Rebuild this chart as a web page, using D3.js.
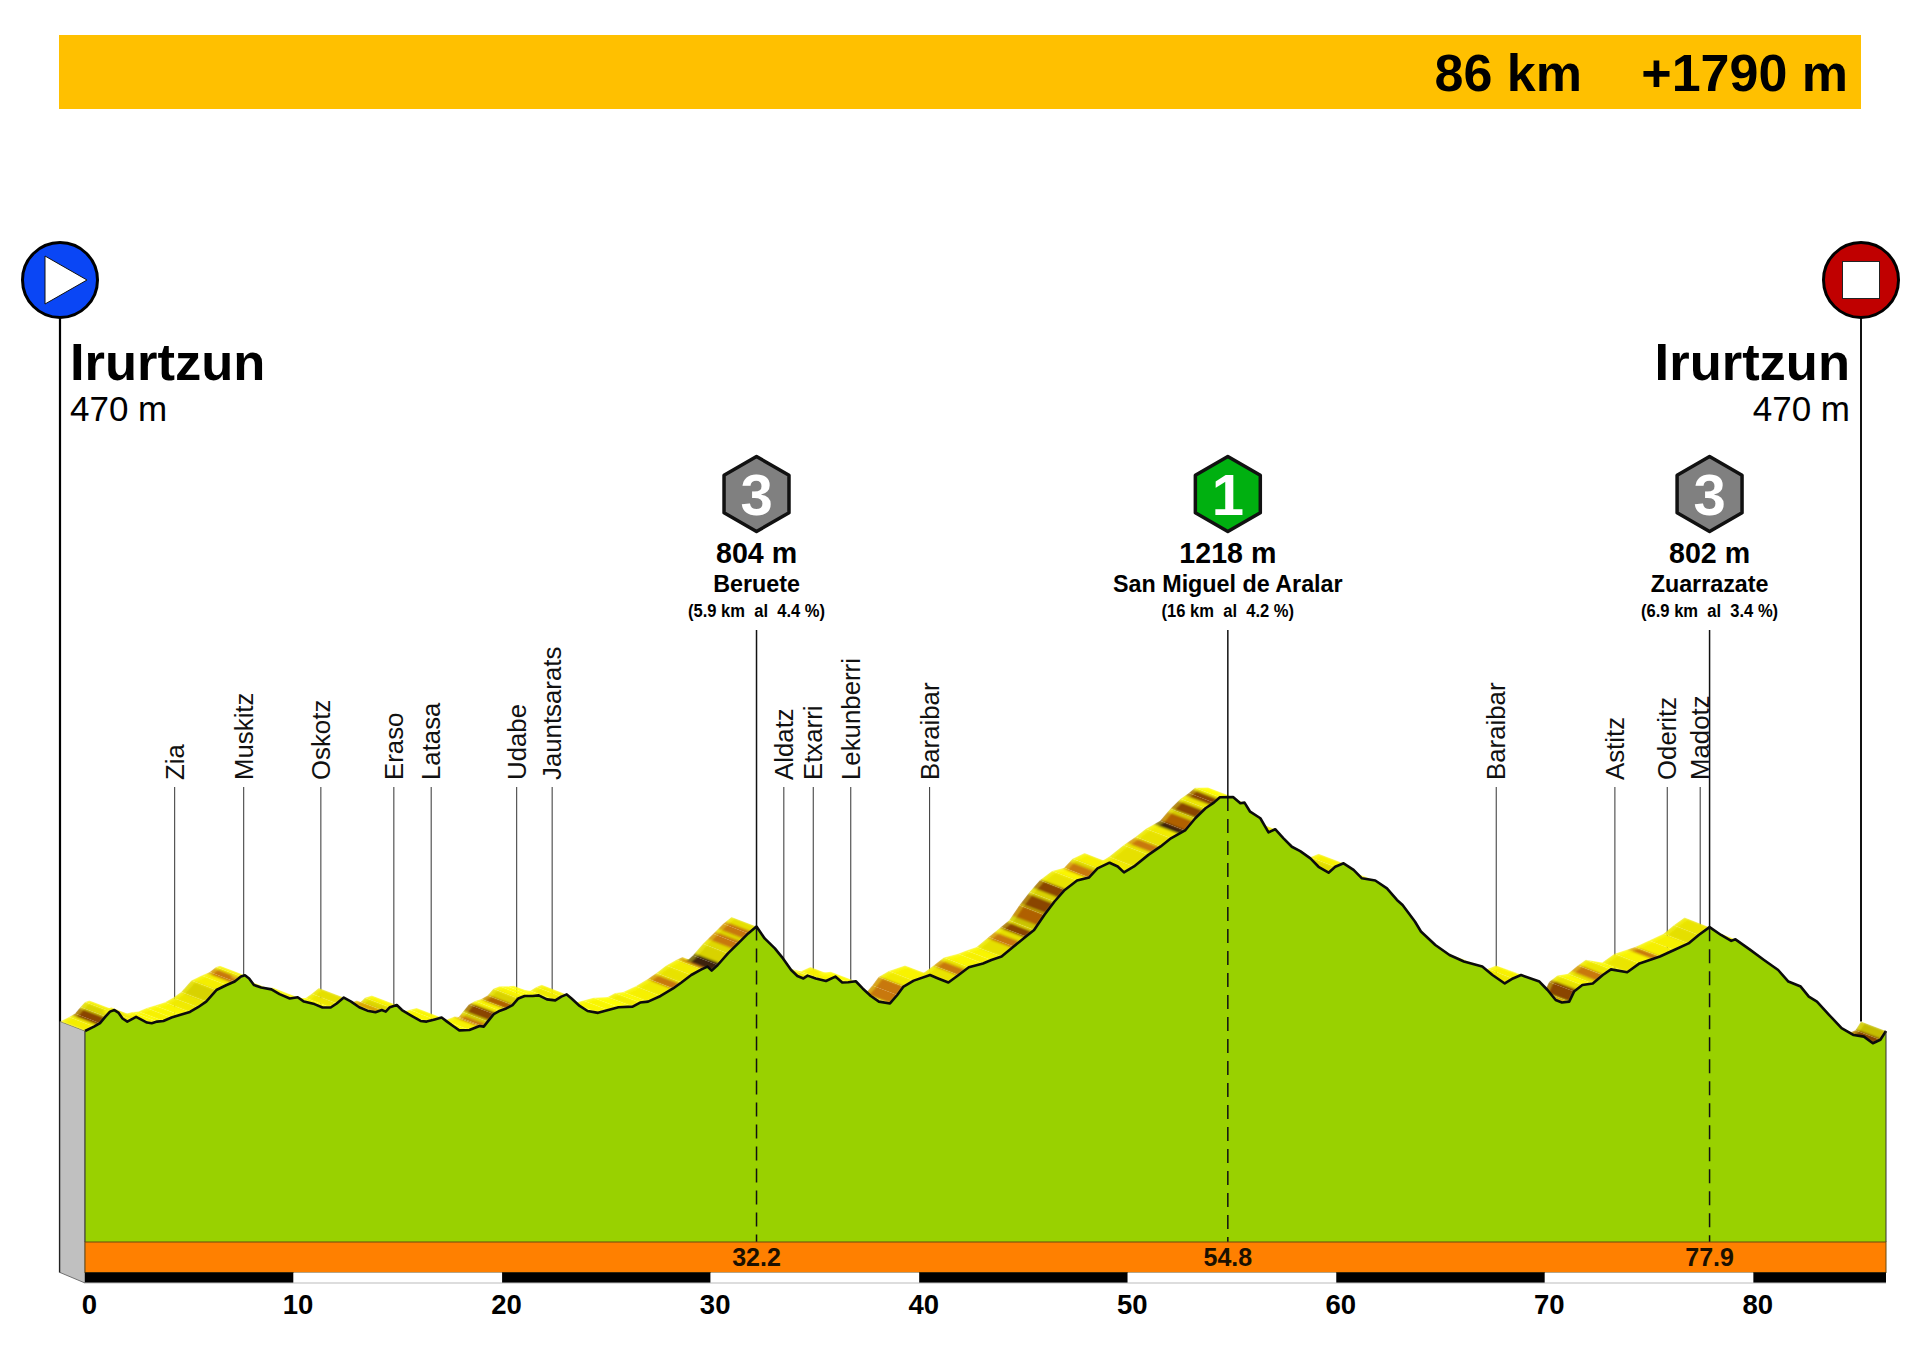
<!DOCTYPE html>
<html>
<head>
<meta charset="utf-8">
<script src="https://cdn.jsdelivr.net/npm/d3@7"></script>
<style>
  body { margin: 0; background: #fff; }
  text { font-family: "Liberation Sans", Arial, sans-serif; white-space: pre; }
</style>
</head>
<body>
<svg id="profile_svg" width="1920" height="1357"></svg>
<script>
// profile
var profileKm = [0,0.43,0.72,0.98,1.2,1.41,1.6,1.8,2.03,2.23,2.45,2.68,2.97,3.2,3.46,3.76,4.15,4.54,5.03,5.42,5.81,6.3,6.79,7.18,7.48,7.67,7.87,8.1,8.45,8.94,9.33,9.82,10.2,10.5,11.0,11.39,11.78,12.07,12.41,12.76,13.15,13.54,13.93,14.23,14.42,14.62,14.95,15.2,15.6,16.09,16.38,16.77,17.1,17.36,17.65,17.95,18.43,18.92,19.12,19.31,19.6,19.9,20.2,20.5,20.78,21.08,21.47,21.76,22.15,22.55,22.84,23.1,23.33,23.72,24.1,24.6,25.09,25.58,26.26,26.62,27.0,27.6,28.2,28.6,29.07,29.56,29.85,30.05,30.34,30.83,31.32,31.8,32.2,32.59,33.08,33.47,33.86,34.16,34.45,34.65,35.04,35.53,35.98,36.31,36.6,36.96,37.29,37.68,38.07,38.6,38.95,39.25,39.74,40.52,40.91,41.4,41.89,42.38,43.06,43.46,43.95,44.53,45.12,45.51,46.0,46.49,46.98,47.57,48.15,48.55,49.13,49.52,49.82,50.3,50.99,51.58,52.07,52.75,53.24,53.73,54.13,54.42,55.05,55.4,55.6,55.87,56.36,56.75,57.07,57.47,57.87,58.27,58.76,59.15,59.63,59.95,60.35,60.83,61.23,61.87,62.43,62.91,63.18,63.77,64.06,64.75,65.43,66.12,67.0,67.49,68.08,68.47,68.86,69.74,70.13,70.52,70.82,71.17,71.4,71.8,72.3,72.78,73.17,73.95,74.54,75.52,76.2,76.89,77.38,77.9,78.45,78.94,79.14,79.82,80.51,81.19,81.68,82.27,82.66,83.05,83.64,84.23,84.81,85.3,85.73,86.09,86.36];
var profileElev = [470,484,495,516,532,537,529,510,500,507,515,507,497,495,500,502,513,521,531,546,564,601,617,628,644,648,638,617,609,603,588,574,578,564,556,545,545,558,577,564,546,535,530,537,532,546,553,537,521,502,500,507,513,500,486,472,473,486,484,500,524,535,542,553,574,582,582,584,571,568,580,587,574,550,534,528,537,546,548,561,564,582,606,625,649,667,676,663,681,718,750,782,804,766,734,702,665,646,638,647,638,630,644,625,626,629,606,582,564,558,585,612,631,649,638,625,649,674,686,697,708,740,772,793,841,884,921,951,961,990,1008,996,977,996,1033,1060,1086,1111,1150,1182,1200,1217,1218,1198,1200,1171,1150,1105,1115,1086,1059,1045,1022,995,976,995,1006,985,958,951,926,889,873,820,788,745,713,692,676,649,622,638,649,628,601,569,561,564,596,617,622,649,667,658,686,708,729,750,777,802,777,758,763,731,697,665,628,612,580,564,521,479,457,452,431,442,470];

// stripes on the ribbon: km at the front edge, steepness in %
var steepKm = [0.92,7.38,13.6,14.2,19.2,19.7,20.5,28.5,29.95,30.4,31.4,31.9,38.95,39.25,42.2,44.8,45.4,46.0,46.4,47.0,48.4,51.5,52.8,53.1,53.6,54.3,71.0,71.5,72.8,75.5,86.1];
var steepGrade = [12,10,10,9,10,12,11,10,10,15,10,10,10,10,10,10,12,11,12,12,10,10,15,11,12,12,10,12,10,10,12];

// villages
var townNames = ["Zia","Muskitz","Oskotz","Eraso","Latasa","Udabe","Jauntsarats","Aldatz","Etxarri","Lekunberri","Baraibar","Baraibar","Astitz","Oderitz","Madotz"];
var townKm = [4.3,7.61,11.31,14.81,16.6,20.7,22.4,33.51,34.92,36.72,40.5,67.67,73.36,75.87,77.45];

// climbs
var climbKm = [32.2,54.8,77.9];
var climbElev = [804,1218,802];
var climbCat = ["3","1","3"];
var climbNames = ["Beruete","San Miguel de Aralar","Zuarrazate"];
var climbInfo = ["(5.9 km  al  4.4 %)","(16 km  al  4.2 %)","(6.9 km  al  3.4 %)"];

var kmTicks = [0,10,20,30,40,50,60,70,80];
var totalKm = 86.36;

var make_profile = function () {

    var svg = d3.select("#profile_svg");

    var x = d3.scaleLinear().domain([0, totalKm]).range([85, 1886]);
    var y = d3.scaleLinear().domain([470, 1218]).range([1031, 797]);

    var depthX = -25, depthY = -9.6;
    var baseTop = 1242, baseBottom = 1272.5, barBottom = 1283;
    var kmEnds = kmTicks.map(function (k) { return k + 10 > totalKm ? totalKm : k + 10; });

    var points = profileKm.map(function (k, i) { return { km: k, elev: profileElev[i] }; });

    var elevAt = function (km) {
        var i = d3.bisectLeft(profileKm, km);
        if (i <= 0) return profileElev[0];
        if (i >= profileKm.length) return profileElev[profileKm.length - 1];
        var t = (km - profileKm[i - 1]) / (profileKm[i] - profileKm[i - 1]);
        return profileElev[i - 1] + t * (profileElev[i] - profileElev[i - 1]);
    };

    // top banner
    svg.append("rect").attr("x", 59).attr("y", 35).attr("width", 1802).attr("height", 74).attr("fill", "#ffc000");
    svg.append("text").attr("x", 1582).attr("y", 91).attr("text-anchor", "end")
        .attr("font-size", 52).attr("font-weight", "bold").text("86 km");
    svg.append("text").attr("x", 1848).attr("y", 91).attr("text-anchor", "end")
        .attr("font-size", 52).attr("font-weight", "bold").text("+1790 m");

    // village leaders sit behind the ribbon
    var towns = townKm.map(function (k, i) { return { km: k, name: townNames[i] }; });
    svg.append("g").selectAll("line").data(towns).join("line")
        .attr("x1", function (d) { return x(d.km); })
        .attr("x2", function (d) { return x(d.km); })
        .attr("y1", 787)
        .attr("y2", function (d) { return y(elevAt(d.km)); })
        .attr("stroke", "#333").attr("stroke-width", 1);

    svg.append("g").selectAll("text").data(towns).join("text")
        .attr("transform", function (d) { return "translate(" + (x(d.km) + 9) + ",780) rotate(-90)"; })
        .attr("font-size", 25.8).attr("fill", "#111")
        .text(function (d) { return d.name; });

    // start and finish posts
    var postL = x(0) + depthX, postR = x(totalKm) + depthX;
    svg.append("line").attr("x1", postL).attr("x2", postL).attr("y1", 280).attr("y2", baseBottom)
        .attr("stroke", "#000").attr("stroke-width", 2.2);
    svg.append("line").attr("x1", postR).attr("x2", postR).attr("y1", 280).attr("y2", y(470) + depthY)
        .attr("stroke", "#111").attr("stroke-width", 2);

    svg.append("circle").attr("cx", postL).attr("cy", 280).attr("r", 37.5)
        .attr("fill", "#0a46f5").attr("stroke", "#000").attr("stroke-width", 3);
    svg.append("path").attr("d", d3.line()([[postL - 15, 256], [postL + 27, 280], [postL - 15, 304]]) + "Z")
        .attr("fill", "#fff").attr("stroke", "#111").attr("stroke-width", 1);
    svg.append("circle").attr("cx", postR).attr("cy", 280).attr("r", 37.5)
        .attr("fill", "#c00000").attr("stroke", "#000").attr("stroke-width", 3);
    svg.append("rect").attr("x", postR - 18.5).attr("y", 261.5).attr("width", 37).attr("height", 37)
        .attr("fill", "#fff").attr("stroke", "#222").attr("stroke-width", 1);

    svg.append("text").attr("x", 70).attr("y", 380).attr("font-size", 52.5).attr("font-weight", "bold").text("Irurtzun");
    svg.append("text").attr("x", 70).attr("y", 421).attr("font-size", 35).text("470 m");
    svg.append("text").attr("x", 1850).attr("y", 380).attr("text-anchor", "end").attr("font-size", 52.5).attr("font-weight", "bold").text("Irurtzun");
    svg.append("text").attr("x", 1850).attr("y", 421).attr("text-anchor", "end").attr("font-size", 35).text("470 m");

    // grey side wall
    svg.append("path")
        .attr("d", d3.line()([
            [x(0) + depthX, y(470) + depthY],
            [x(0), y(470)],
            [x(0), barBottom],
            [x(0) + depthX, baseBottom]
        ]) + "Z")
        .attr("fill", "#c0c0c0").attr("stroke", "#555").attr("stroke-width", 0.8);

    // ribbon behind the profile
    var yellow = d3.scaleLinear().domain([0, 3, 6, 9, 12]).range(["#ffff00", "#f6f000", "#e2dc00", "#cfc800", "#b8b000"]).clamp(true);
    var hot = d3.scaleThreshold().domain([10, 11, 12, 15]).range(["#d8a000", "#c87808", "#b06000", "#8a4400", "#3e2408"]);

    var quad = function (list) {
        var back = list.slice().reverse().map(function (p) { return [x(p.km) + depthX, y(p.elev) + depthY]; });
        var front = list.map(function (p) { return [x(p.km), y(p.elev)]; });
        return d3.line()(front.concat(back)) + "Z";
    };

    var segments = d3.pairs(points).map(function (p) {
        var dx = x(p[1].km) - x(p[0].km), dy = y(p[1].elev) - y(p[0].elev);
        return {
            pts: p,
            grade: (p[1].elev - p[0].elev) / (p[1].km - p[0].km) / 10,
            slope: dy / dx
        };
    });
    // shallow descents first, climbs painted over them, steep descents stay hidden
    var visible = segments.filter(function (s) { return s.slope < -depthY / -depthX; });
    visible.sort(function (a, b) { return d3.ascending(a.grade > 0, b.grade > 0) || d3.ascending(a.pts[0].km, b.pts[0].km); });

    var defs = svg.append("defs");
    defs.append("filter").attr("id", "soft").attr("x", "-5%").attr("y", "-5%").attr("width", "110%").attr("height", "110%")
        .append("feGaussianBlur").attr("stdDeviation", 1.1);
    defs.append("clipPath").attr("id", "ribbon_clip")
        .selectAll("path").data(visible).join("path")
        .attr("d", function (s) { return quad(s.pts); });

    var ribbon = svg.append("g").attr("clip-path", "url(#ribbon_clip)")
        .append("g").attr("filter", "url(#soft)");
    ribbon.selectAll("path.seg").data(visible).join("path")
        .attr("class", "seg")
        .attr("d", function (s) { return quad(s.pts); })
        .attr("fill", function (s) { return yellow(s.grade); })
        .attr("stroke", function (s) { return yellow(s.grade); })
        .attr("stroke-width", 0.4);

    // brown stripes
    var stripes = steepKm.map(function (k, i) { return { km: k, grade: steepGrade[i] }; });
    ribbon.selectAll("path.stripe").data(stripes).join("path")
        .attr("class", "stripe")
        .attr("d", function (d) {
            var k0 = d.km - 0.34, k1 = d.km + 0.02;
            var inner = points.filter(function (p) { return p.km > k0 && p.km < k1; });
            return quad([{ km: k0, elev: elevAt(k0) }].concat(inner, [{ km: k1, elev: elevAt(k1) }]));
        })
        .attr("fill", function (d) { return hot(d.grade); });

    // soft highlight along the back edge of the ribbon
    var topEdge = d3.line()
        .x(function (p) { return x(p.km) + depthX * 0.9; })
        .y(function (p) { return y(p.elev) + depthY * 0.9; });
    ribbon.selectAll("path.edge").data(visible).join("path")
        .attr("class", "edge")
        .attr("d", function (s) { return topEdge(s.pts); })
        .attr("fill", "none").attr("stroke", "#ffff30").attr("stroke-width", 2.4).attr("stroke-opacity", 0.45);

    // green profile
    var area = d3.area()
        .x(function (p) { return x(p.km); })
        .y0(baseTop)
        .y1(function (p) { return y(p.elev); });
    svg.append("path").datum(points).attr("d", area).attr("fill", "#99d100");

    // climb leaders
    var climbs = climbKm.map(function (k, i) {
        return { km: k, elev: climbElev[i], cat: climbCat[i], name: climbNames[i], info: climbInfo[i] };
    });
    svg.append("g").selectAll("line").data(climbs).join("line")
        .attr("x1", function (d) { return x(d.km); }).attr("x2", function (d) { return x(d.km); })
        .attr("y1", 630).attr("y2", function (d) { return y(d.elev); })
        .attr("stroke", "#111").attr("stroke-width", 1.5);
    svg.append("g").selectAll("line").data(climbs).join("line")
        .attr("x1", function (d) { return x(d.km); }).attr("x2", function (d) { return x(d.km); })
        .attr("y1", function (d) { return y(d.elev); }).attr("y2", baseTop)
        .attr("stroke", "#111").attr("stroke-width", 1.5).attr("stroke-dasharray", "14 8");

    // profile outline
    svg.append("path").datum(points)
        .attr("d", d3.line().x(function (p) { return x(p.km); }).y(function (p) { return y(p.elev); }))
        .attr("fill", "none").attr("stroke", "#0b0b0b").attr("stroke-width", 2.6).attr("stroke-linejoin", "round");
    svg.append("line").attr("x1", x(0)).attr("x2", x(0)).attr("y1", y(470)).attr("y2", baseTop).attr("stroke", "#333").attr("stroke-width", 1);
    svg.append("line").attr("x1", x(totalKm)).attr("x2", x(totalKm)).attr("y1", y(470)).attr("y2", baseTop).attr("stroke", "#333").attr("stroke-width", 1);

    // orange band with km of the summits
    svg.append("rect").attr("x", x(0)).attr("y", baseTop).attr("width", x(totalKm) - x(0)).attr("height", baseBottom - baseTop)
        .attr("fill", "#ff8000").attr("stroke", "#6a4a10").attr("stroke-width", 1);
    svg.append("g").selectAll("text").data(climbs).join("text")
        .attr("x", function (d) { return x(d.km); }).attr("y", 1266)
        .attr("text-anchor", "middle").attr("font-size", 25).attr("font-weight", "bold").attr("fill", "#1a1000")
        .text(function (d) { return d.km.toFixed(1); });

    // km bar
    svg.append("g").selectAll("rect").data(kmTicks).join("rect")
        .attr("x", function (k) { return x(k); })
        .attr("y", baseBottom)
        .attr("width", function (k, i) { return x(kmEnds[i]) - x(k); })
        .attr("height", barBottom - baseBottom)
        .attr("fill", function (k, i) { return i % 2 ? "#fff" : "#000"; });
    svg.append("line").attr("x1", x(0)).attr("x2", x(totalKm)).attr("y1", barBottom).attr("y2", barBottom)
        .attr("stroke", "#bbb").attr("stroke-width", 1.2);

    var xAxis = d3.axisBottom(x).tickValues(kmTicks).tickSize(0).tickPadding(0).tickFormat(d3.format("d"));
    var axisG = svg.append("g").attr("transform", "translate(4,1294)").call(xAxis);
    axisG.select(".domain").remove();
    axisG.selectAll("text").attr("font-size", 27.5).attr("font-weight", "bold").attr("fill", "#000")
        .style("font-family", '"Liberation Sans", Arial, sans-serif');

    // climb badges and captions
    var badge = svg.append("g").selectAll("g").data(climbs).join("g")
        .attr("transform", function (d) { return "translate(" + x(d.km) + ",0)"; });
    var hex = d3.range(6).map(function (i) {
        var a = Math.PI / 3 * i;
        return [37.5 * Math.sin(a), 494 - 37.5 * Math.cos(a)];
    });
    badge.append("path").attr("d", d3.line()(hex) + "Z")
        .attr("fill", function (d) { return d.cat === "1" ? "#00b010" : "#808080"; })
        .attr("stroke", "#111").attr("stroke-width", 3.5).attr("stroke-linejoin", "round");
    badge.append("text").attr("y", 515).attr("text-anchor", "middle").attr("font-size", 58).attr("font-weight", "bold")
        .attr("fill", "#fff").text(function (d) { return d.cat; });
    badge.append("text").attr("y", 563).attr("text-anchor", "middle").attr("font-size", 28.6).attr("font-weight", "bold")
        .text(function (d) { return d.elev + " m"; });
    badge.append("text").attr("y", 592).attr("text-anchor", "middle").attr("font-size", 23.3).attr("font-weight", "bold")
        .text(function (d) { return d.name; });
    badge.append("text").attr("transform", "translate(0,617) scale(0.895,1)").attr("text-anchor", "middle")
        .attr("font-size", 18.5).attr("font-weight", "bold")
        .text(function (d) { return d.info; });
};

make_profile();
</script>
</body>
</html>
